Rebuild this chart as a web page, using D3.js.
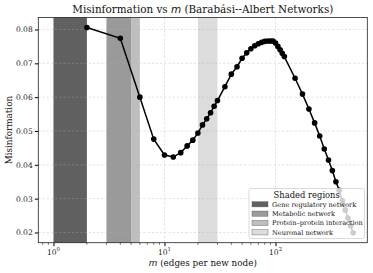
<!DOCTYPE html>
<html><head><meta charset="utf-8">
<script src="https://cdn.jsdelivr.net/npm/d3@7"></script>
<style>body{margin:0;background:#fff}svg{display:block}text{font-family:"DejaVu Serif",serif}</style>
</head><body><svg id="c" width="373" height="273"></svg>
<script>
const mValues = [2,4,6,8,10,12,14,16,18,20,22,24,26,28,30,35,40,45,50,55,60,65,70,75,80,85,90,95,100,105,110,115,120,150,175,200,225,250,275,300,325,350,375,400,425,450,475,500];
const misinformation = [0.0806,0.0774,0.0600,0.0476,0.0429,0.0423,0.0436,0.0456,0.0473,0.0494,0.0518,0.0536,0.0554,0.0573,0.0590,0.0631,0.0668,0.0690,0.0715,0.0731,0.0743,0.0752,0.0758,0.0762,0.0765,0.0766,0.0766,0.0766,0.0760,0.0750,0.0740,0.0730,0.0720,0.0656,0.0609,0.0565,0.0524,0.0485,0.0447,0.0414,0.0383,0.0350,0.0325,0.0294,0.0266,0.0243,0.0220,0.0199];
const regionNames = ["Gene regulatory network","Metabolic network","Protein\u2013protein interaction","Neuronal network"];
const regionStart = [1,3,5,20];
const regionEnd = [2,5,6,30];
const regionColors = ["#606060","#9a9a9a","#bebebe","#dcdcdc"];
const yTicks = [0.02,0.03,0.04,0.05,0.06,0.07,0.08];
const xTicks = [1,10,100];

const svg = d3.select("#c");
const L=38.3,R=367.3,T=17.5,B=242.7;
const x = d3.scaleLog().domain([0.73,671]).range([L,R]);
const y = d3.scaleLinear().domain([0.01698,0.08355]).range([B,T]);

// spans
svg.append("g").selectAll("rect").data(regionNames).join("rect")
  .attr("x",(d,i)=>x(regionStart[i])).attr("width",(d,i)=>x(regionEnd[i])-x(regionStart[i]))
  .attr("y",T).attr("height",B-T).attr("fill",(d,i)=>regionColors[i]);

// grid
const grid = svg.append("g").attr("stroke","#b0b0b0").attr("stroke-width",0.6).attr("stroke-dasharray","2.2,2").attr("opacity",0.6);
yTicks.forEach(t=>grid.append("line").attr("x1",L).attr("x2",R).attr("y1",y(t)).attr("y2",y(t)));
xTicks.forEach(t=>grid.append("line").attr("y1",T).attr("y2",B).attr("x1",x(t)).attr("x2",x(t)));

// line & markers
const line = d3.line().x((d,i)=>x(mValues[i])).y(d=>y(d));
svg.append("path").datum(misinformation).attr("d",line).attr("fill","none").attr("stroke","#000").attr("stroke-width",1.5);
svg.append("g").selectAll("circle").data(misinformation).join("circle")
  .attr("cx",(d,i)=>x(mValues[i])).attr("cy",d=>y(d)).attr("r",2.8).attr("fill","#000");

// axes
const yAxis = svg.append("g").attr("transform",`translate(${L},0)`)
  .call(d3.axisLeft(y).tickValues(yTicks).tickFormat(d3.format(".2f")).tickSize(3.5).tickPadding(2));
yAxis.select(".domain").remove();
yAxis.selectAll("text").attr("font-family","DejaVu Serif").attr("font-size",7.6).attr("fill","#222");
const minorTicks = [];
for (let e=0;e<3;e++) for (let k=1;k<10;k++){const v=k*Math.pow(10,e-1); if(v>=0.73&&v<=671&&k>1) minorTicks.push(v);}
[0.8,0.9].forEach(v=>{});
const xAxis = svg.append("g").attr("transform",`translate(0,${B})`)
  .call(d3.axisBottom(x).tickValues(xTicks).tickFormat("").tickSize(3.5));
xAxis.select(".domain").remove();
svg.append("g").attr("transform",`translate(0,${B})`).selectAll("line").data(minorTicks.filter(v=>v>=0.73&&v<=671)).join("line")
  .attr("x1",d=>x(d)).attr("x2",d=>x(d)).attr("y1",0).attr("y2",2).attr("stroke","#000").attr("stroke-width",0.6);
xTicks.forEach((t,i)=>{
  const tx = svg.append("text").attr("x",x(t)).attr("y",B+12).attr("text-anchor","middle").attr("font-size",7.6).attr("fill","#222");
  tx.append("tspan").text("10");
  tx.append("tspan").attr("dy",-3.5).attr("font-size",5.4).text(i);
});
// frame
svg.append("rect").attr("x",L).attr("y",T).attr("width",R-L).attr("height",B-T).attr("fill","none").attr("stroke","#222").attr("stroke-width",0.8);

// labels
const title = svg.append("text").attr("x",(L+R)/2).attr("y",12.5).attr("text-anchor","middle").attr("font-size",10.4).attr("fill","#111");
title.append("tspan").text("Misinformation vs ");
title.append("tspan").attr("font-family","DejaVu Sans").attr("font-style","italic").text("m");
title.append("tspan").text(" (Barab\u00e1si--Albert Networks)");
const xl = svg.append("text").attr("x",(L+R)/2).attr("y",266).attr("text-anchor","middle").attr("font-size",8.8).attr("fill","#111");
xl.append("tspan").attr("font-family","DejaVu Sans").attr("font-style","italic").text("m");
xl.append("tspan").text(" (edges per new node)");
svg.append("text").attr("transform",`translate(12,${(T+B)/2}) rotate(-90)`).attr("text-anchor","middle").attr("font-size",8.8).attr("fill","#111").text("Misinformation");

// legend
const lg = svg.append("g");
lg.append("rect").attr("x",249).attr("y",188.5).attr("width",115.5).attr("height",50).attr("rx",2)
  .attr("fill","#fff").attr("fill-opacity",0.8).attr("stroke","#d0d0d0").attr("stroke-width",0.8);
lg.append("text").attr("x",306.7).attr("y",197.5).attr("text-anchor","middle").attr("font-size",8.4).attr("fill","#111").text("Shaded regions");
regionNames.forEach((n,i)=>{
  const cy = 204.3 + i*9.35;
  lg.append("rect").attr("x",252).attr("y",cy-2.6).attr("width",16).attr("height",5.2).attr("fill",regionColors[i]).attr("stroke","#555").attr("stroke-width",0.4);
  lg.append("text").attr("x",272).attr("y",cy+2.4).attr("font-size",6.6).attr("fill","#111").text(n);
});
</script></body></html>
